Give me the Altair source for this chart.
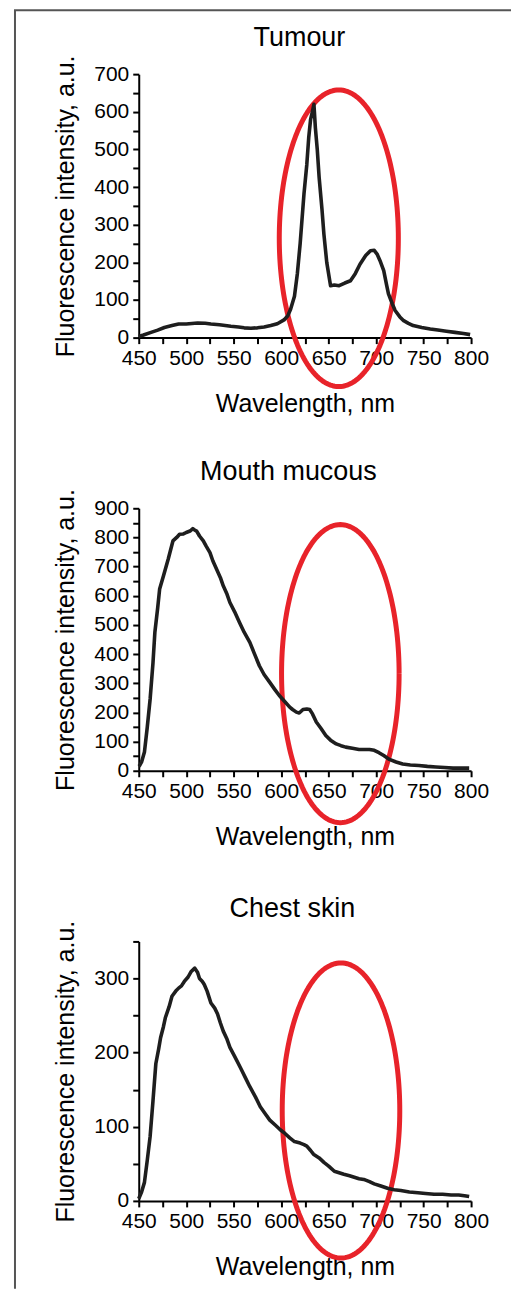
import numpy as np
import pandas as pd
import altair as alt

PANELS = ["Tumour", "Mouth mucous", "Chest skin"]
X_TITLE = "Wavelength, nm"
Y_TITLE = "Fluorescence intensity, a.u."
X_DOMAIN = [450, 800]
Y_MAX = [700, 900, 350]

WL_TUMOUR = [450, 455, 463, 470, 477, 485, 492, 500, 512, 520, 526, 535, 547, 555, 561, 568, 575, 582,
             589, 596, 603, 607, 610, 614, 617, 620, 624, 627, 629, 631, 633, 634.5, 636, 638, 640, 643,
             645, 648, 652, 656, 661, 667, 673, 678, 683, 689, 694, 698, 701, 704, 708, 711, 713, 717,
             720, 725, 729, 734, 739, 748, 757, 765, 774, 783, 792, 799]
INT_TUMOUR = [3, 7, 14, 20, 27, 32, 36, 36, 39, 38, 36, 34, 30, 28, 26, 25, 26, 28,
              32, 37, 47, 58, 76, 110, 169, 250, 381, 460, 531, 580, 602, 620, 558, 500, 425, 340,
              275, 200, 138, 140, 138, 145, 151, 170, 195, 218, 231, 232, 222, 205, 178, 140, 116, 90,
              72, 55, 45, 38, 32, 27, 23, 20, 17, 14, 11, 8]

WL_MOUTH = [450, 451, 453, 456, 459, 462, 465, 467, 470, 472, 476, 481, 486, 490, 493, 497, 500, 504,
            507, 509, 511, 514, 518, 521, 525, 528, 532, 536, 539, 543, 546, 551, 556, 561, 567, 572,
            577, 582, 588, 593, 598, 603, 609, 612, 616, 619, 623, 627, 630, 633, 637, 642, 647, 652,
            658, 663, 668, 675, 682, 688, 693, 698, 703, 708, 714, 721, 728, 736, 745, 754, 763, 772,
            781, 790, 798]
INT_MOUTH = [15, 18, 30, 64, 150, 246, 370, 475, 560, 623, 668, 725, 788, 800, 811, 812, 817, 822,
             830, 825, 822, 805, 788, 770, 748, 720, 691, 662, 634, 605, 577, 545, 509, 475, 440, 400,
             360, 330, 303, 280, 258, 240, 218, 210, 201, 198, 210, 212, 210, 195, 167, 145, 121, 105,
             92, 86, 81, 77, 73, 73, 73, 70, 62, 52, 39, 30, 23, 20, 18, 15, 13, 11,
             9, 9, 9]

WL_CHEST = [450, 453, 456, 459, 462, 465, 468, 471, 473, 476, 478, 482, 485, 489, 492, 495, 498, 502,
            505, 509, 512, 514, 517, 519, 522, 526, 530, 533, 536, 539, 543, 546, 551, 557, 562, 567,
            573, 578, 583, 588, 594, 599, 604, 609, 614, 620, 624, 627, 631, 634, 640, 645, 650, 656,
            661, 666, 672, 677, 682, 687, 693, 698, 705, 712, 719, 726, 735, 744, 752, 761, 770, 779,
            787, 793, 798]
INT_CHEST = [3, 12, 25, 55, 87, 135, 185, 205, 220, 235, 247, 262, 276, 283, 287, 290, 296, 302,
             309, 314, 308, 300, 296, 292, 283, 267, 260, 252, 240, 229, 218, 207, 195, 180, 167, 154,
             140, 127, 118, 109, 102, 96, 91, 85, 80, 78, 76, 74, 68, 63, 58, 52, 47, 40,
             38, 36, 34, 32, 30, 29, 26, 23, 20, 17, 15, 14, 12, 11, 10, 9, 9, 8,
             8, 7, 6]

# highlight ellipses: centre wavelength, centre intensity, half-width (nm), half-height (a.u.)
ELLIPSE_CX = [660.7, 662.3, 663.0]
ELLIPSE_CY = [264, 333, 122]
ELLIPSE_RX = [62.7, 61.9, 61.9]
ELLIPSE_RY = [394, 511, 199]

HEIGHTS = [264, 263, 260]
TITLE_X = [161, 150, 154]
TITLE_Y = [-28, -28, -24]

WIDTH = 333
LINE_COLOR = "#1e1e1e"
RED = "#e8232a"
FRAME_COLOR = "#555555"


def panel(i, wl, inten, frame=False):
    ymax = Y_MAX[i]
    xs = alt.Scale(domain=X_DOMAIN, nice=False, zero=False)
    ys = alt.Scale(domain=[0, ymax], nice=False, zero=False)
    x_axis = alt.Axis(values=list(range(450, 801, 25)),
                      labelExpr="datum.value % 50 === 0 ? datum.label : ''",
                      title=X_TITLE)
    y_axis = alt.Axis(values=list(range(0, ymax + 1, 50)),
                      labelExpr="datum.value % 100 === 0 ? datum.label : ''",
                      title=Y_TITLE)
    spec = pd.DataFrame({"wl": wl, "val": inten})
    t = np.linspace(0, 2 * np.pi, 181)
    ell = pd.DataFrame({
        "wl": ELLIPSE_CX[i] + ELLIPSE_RX[i] * np.cos(t),
        "val": ELLIPSE_CY[i] + ELLIPSE_RY[i] * np.sin(t),
        "k": np.arange(len(t)),
    })
    ell_layer = alt.Chart(ell).mark_line(color=RED, strokeWidth=5, strokeJoin="round").encode(
        x=alt.X("wl:Q", scale=xs, axis=x_axis),
        y=alt.Y("val:Q", scale=ys, axis=y_axis),
        order="k:Q",
    )
    line_layer = alt.Chart(spec).mark_line(color=LINE_COLOR, strokeWidth=3.6, strokeJoin="round").encode(
        x=alt.X("wl:Q", scale=xs, axis=x_axis),
        y=alt.Y("val:Q", scale=ys, axis=y_axis),
    )
    title_layer = alt.Chart().mark_text(
        font="Liberation Sans, Arial", fontSize=27, color="black", align="center", baseline="alphabetic"
    ).encode(
        x=alt.value(TITLE_X[i]), y=alt.value(TITLE_Y[i]), text=alt.value(PANELS[i])
    )
    layers = [ell_layer, line_layer, title_layer]
    if frame:
        left = alt.Chart().mark_rule(color=FRAME_COLOR, strokeWidth=2).encode(
            x=alt.value(-124), y=alt.value(-64), y2=alt.value(1217)
        )
        top = alt.Chart().mark_rule(color=FRAME_COLOR, strokeWidth=2).encode(
            x=alt.value(-125), x2=alt.value(373), y=alt.value(-64)
        )
        layers += [left, top]
    return alt.layer(*layers).properties(width=WIDTH, height=HEIGHTS[i])


chart = alt.vconcat(
    panel(0, WL_TUMOUR, INT_TUMOUR, frame=True),
    panel(1, WL_MOUTH, INT_MOUTH),
    panel(2, WL_CHEST, INT_CHEST),
    spacing=171,
    bounds="flush",
).properties(
    padding={"left": 5, "top": 0, "right": 0, "bottom": 0}
).configure_view(
    stroke=None
).configure_axis(
    domainColor="black", domainWidth=2, tickColor="black", tickWidth=2, tickSize=6,
    labelFont="Liberation Sans, Arial", labelFontSize=21, labelColor="black",
    titleFont="Liberation Sans, Arial", titleFontSize=25, titleFontWeight="normal", titleColor="black",
    grid=False, labelFlush=False, labelOverlap=False
).configure_axisX(
    labelPadding=4, titlePadding=23
).configure_axisY(
    labelPadding=4, titlePadding=15
)

chart.save("out.html", embed_options={"renderer": "svg", "actions": False})
